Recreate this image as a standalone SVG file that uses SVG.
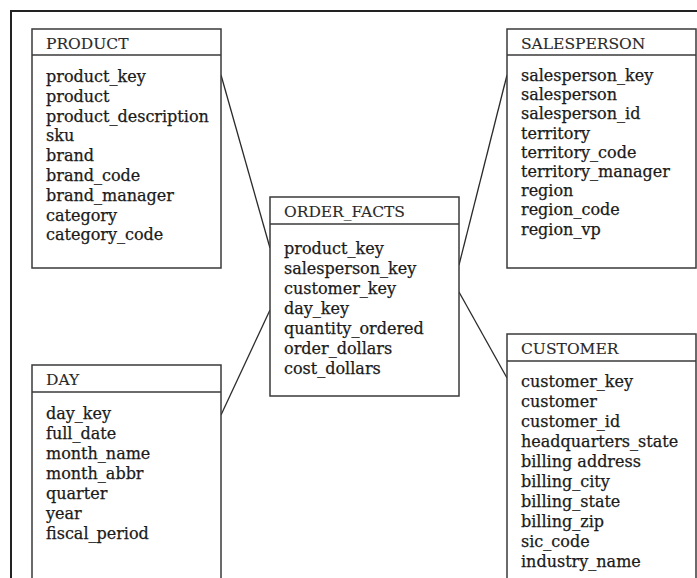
<svg xmlns="http://www.w3.org/2000/svg" width="697" height="578" viewBox="0 0 697 578">
<style>
.box{fill:#fff;stroke:#3a3a3a;stroke-width:1.5}
.div{stroke:#3a3a3a;stroke-width:1.5}
.t{font-family:"DejaVu Serif","Liberation Serif",serif;font-size:16px;fill:#1a1a1a;stroke:#1a1a1a;stroke-width:0.25}
.h{font-family:"DejaVu Serif","Liberation Serif",serif;font-size:15.5px;fill:#2a2a2a;stroke:#2a2a2a;stroke-width:0.15}
.c{stroke:#2a2a2a;stroke-width:1.3;fill:none}
</style>
<rect width="697" height="578" fill="#fff"/>
<path d="M11,578 V11 H697" fill="none" stroke="#222" stroke-width="2"/>
<g id="connectors">
<line class="c" x1="221" y1="75" x2="270" y2="248"/>
<line class="c" x1="221" y1="415" x2="270" y2="310"/>
<line class="c" x1="507" y1="75" x2="459" y2="265"/>
<line class="c" x1="459" y1="292" x2="507" y2="378"/>
</g>
<g id="product">
<rect class="box" x="32" y="29" width="189" height="239"/>
<line class="div" x1="32" y1="55" x2="221" y2="55"/>
<text class="h" x="46" y="49">PRODUCT</text>
<text class="t" x="46" y="82">product_key</text>
<text class="t" x="46" y="101.8">product</text>
<text class="t" x="46" y="121.6">product_description</text>
<text class="t" x="46" y="141.4">sku</text>
<text class="t" x="46" y="161.2">brand</text>
<text class="t" x="46" y="181">brand_code</text>
<text class="t" x="46" y="200.8">brand_manager</text>
<text class="t" x="46" y="220.6">category</text>
<text class="t" x="46" y="240.4">category_code</text>
</g>
<g id="day">
<rect class="box" x="32" y="365" width="189" height="220"/>
<line class="div" x1="32" y1="392" x2="221" y2="392"/>
<text class="h" x="46" y="385">DAY</text>
<text class="t" x="46" y="419">day_key</text>
<text class="t" x="46" y="439">full_date</text>
<text class="t" x="46" y="459">month_name</text>
<text class="t" x="46" y="479">month_abbr</text>
<text class="t" x="46" y="499">quarter</text>
<text class="t" x="46" y="519">year</text>
<text class="t" x="46" y="539">fiscal_period</text>
</g>
<g id="order_facts">
<rect class="box" x="270" y="197" width="189" height="199"/>
<line class="div" x1="270" y1="224" x2="459" y2="224"/>
<text class="h" x="284" y="217">ORDER_FACTS</text>
<text class="t" x="284" y="254">product_key</text>
<text class="t" x="284" y="274">salesperson_key</text>
<text class="t" x="284" y="294">customer_key</text>
<text class="t" x="284" y="314">day_key</text>
<text class="t" x="284" y="334">quantity_ordered</text>
<text class="t" x="284" y="354">order_dollars</text>
<text class="t" x="284" y="374">cost_dollars</text>
</g>
<g id="salesperson">
<rect class="box" x="507" y="29" width="189" height="239"/>
<line class="div" x1="507" y1="55" x2="696" y2="55"/>
<text class="h" x="521" y="49">SALESPERSON</text>
<text class="t" x="521" y="81">salesperson_key</text>
<text class="t" x="521" y="100.2">salesperson</text>
<text class="t" x="521" y="119.4">salesperson_id</text>
<text class="t" x="521" y="138.6">territory</text>
<text class="t" x="521" y="157.8">territory_code</text>
<text class="t" x="521" y="177">territory_manager</text>
<text class="t" x="521" y="196.2">region</text>
<text class="t" x="521" y="215.4">region_code</text>
<text class="t" x="521" y="234.6">region_vp</text>
</g>
<g id="customer">
<rect class="box" x="507" y="334" width="189" height="255"/>
<line class="div" x1="507" y1="361" x2="696" y2="361"/>
<text class="h" x="521" y="354">CUSTOMER</text>
<text class="t" x="521" y="387">customer_key</text>
<text class="t" x="521" y="407">customer</text>
<text class="t" x="521" y="427">customer_id</text>
<text class="t" x="521" y="447">headquarters_state</text>
<text class="t" x="521" y="467">billing address</text>
<text class="t" x="521" y="487">billing_city</text>
<text class="t" x="521" y="507">billing_state</text>
<text class="t" x="521" y="527">billing_zip</text>
<text class="t" x="521" y="547">sic_code</text>
<text class="t" x="521" y="567">industry_name</text>
</g>
</svg>
